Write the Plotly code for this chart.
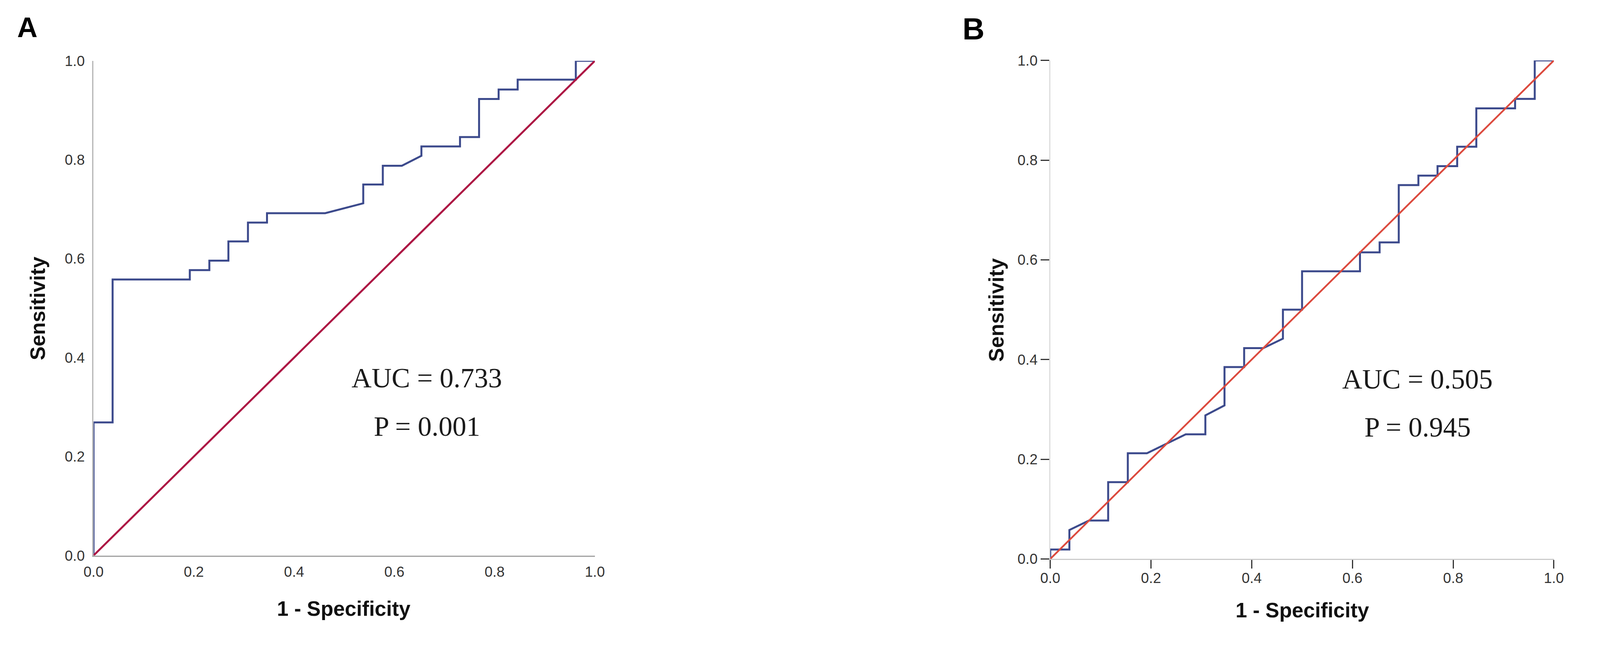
import plotly.graph_objects as go

# ROC curve A (1 - specificity, sensitivity)
fpr_a = [0, 0, 0.038, 0.038, 0.192, 0.192, 0.231, 0.231, 0.269, 0.269, 0.308, 0.308,
         0.346, 0.346, 0.462, 0.538, 0.538, 0.577, 0.577, 0.615, 0.654, 0.654, 0.731,
         0.731, 0.769, 0.769, 0.808, 0.808, 0.846, 0.846, 0.962, 0.962, 1.0]
tpr_a = [0, 0.269, 0.269, 0.558, 0.558, 0.577, 0.577, 0.596, 0.596, 0.635, 0.635, 0.673,
         0.673, 0.692, 0.692, 0.712, 0.750, 0.750, 0.788, 0.788, 0.808, 0.827, 0.827,
         0.846, 0.846, 0.923, 0.923, 0.942, 0.942, 0.962, 0.962, 1.0, 1.0]

# ROC curve B
fpr_b = [0, 0, 0.038, 0.038, 0.077, 0.115, 0.115, 0.154, 0.154, 0.192, 0.269, 0.308,
         0.308, 0.346, 0.346, 0.385, 0.385, 0.423, 0.462, 0.462, 0.500, 0.500, 0.615,
         0.615, 0.654, 0.654, 0.692, 0.692, 0.731, 0.731, 0.769, 0.769, 0.808, 0.808,
         0.846, 0.846, 0.923, 0.923, 0.962, 0.962, 1.0]
tpr_b = [0, 0.019, 0.019, 0.058, 0.077, 0.077, 0.154, 0.154, 0.212, 0.212, 0.250, 0.250,
         0.288, 0.308, 0.385, 0.385, 0.423, 0.423, 0.442, 0.500, 0.500, 0.577, 0.577,
         0.615, 0.615, 0.635, 0.635, 0.750, 0.750, 0.769, 0.769, 0.788, 0.788, 0.827,
         0.827, 0.904, 0.904, 0.923, 0.923, 1.0, 1.0]

# reference (chance) line
ref_x = [0, 1]
ref_y = [0, 1]

ticks = [0, 0.2, 0.4, 0.6, 0.8, 1.0]
tick_text = ["0.0", "0.2", "0.4", "0.6", "0.8", "1.0"]

auc_a = "AUC = 0.733"
p_a = "P = 0.001"
auc_b = "AUC = 0.505"
p_b = "P = 0.945"

W, H = 4317, 1703
blue = "#3c4a8c"

fig = go.Figure()

# panel A
fig.add_trace(go.Scatter(x=fpr_a, y=tpr_a, mode="lines", line=dict(color=blue, width=5),
                         xaxis="x", yaxis="y", cliponaxis=False))
fig.add_trace(go.Scatter(x=ref_x, y=ref_y, mode="lines", line=dict(color="#ad1744", width=5),
                         xaxis="x", yaxis="y", cliponaxis=False))
# panel B
fig.add_trace(go.Scatter(x=fpr_b, y=tpr_b, mode="lines", line=dict(color=blue, width=5),
                         xaxis="x2", yaxis="y2", cliponaxis=False))
fig.add_trace(go.Scatter(x=ref_x, y=ref_y, mode="lines", line=dict(color="#dc4a3e", width=4.5),
                         xaxis="x2", yaxis="y2", cliponaxis=False))

tickfont = dict(family="Arial, Liberation Sans, sans-serif", size=37, color="#333333")
common = dict(range=[0, 1], tickvals=ticks, ticktext=tick_text, showgrid=False,
              zeroline=False, showline=True, tickfont=tickfont, layer="below traces",
              fixedrange=True)

fig.update_layout(
    width=W, height=H,
    margin=dict(l=0, r=0, t=0, b=0),
    paper_bgcolor="white", plot_bgcolor="white",
    showlegend=False,
    xaxis=dict(domain=[208 / W, 1507 / W], anchor="y", linecolor="#a0a0a0", linewidth=3,
               ticks="", ticklabelstandoff=7, **common),
    yaxis=dict(domain=[1 - 1429 / H, 1 - 131 / H], anchor="x", linecolor="#b4b4b4", linewidth=3,
               ticks="", ticklabelstandoff=12, **common),
    xaxis2=dict(domain=[2687 / W, 3992 / W], anchor="y2", linecolor="#cccccc", linewidth=3,
                ticks="outside", ticklen=22, tickwidth=3, tickcolor="#333333",
                ticklabelstandoff=-8, **common),
    yaxis2=dict(domain=[1 - 1438 / H, 1 - 130 / H], anchor="x2", linecolor="#dddddd", linewidth=3,
                ticks="outside", ticklen=22, tickwidth=3, tickcolor="#333333",
                ticklabelstandoff=0, **common),
)

title_font = dict(family="Arial, Liberation Sans, sans-serif", size=53, color="#111111")
serif = dict(family="Times New Roman, Liberation Serif, serif", size=71, color="#1a1a1a")
letter_font = dict(family="Arial, Liberation Sans, sans-serif", color="black")

annotations = [
    # panel letters
    dict(text="<b>A</b>", x=8 / W, y=1.0, xref="paper", yref="paper", xanchor="left", yanchor="top",
         showarrow=False, font=dict(size=72, **letter_font)),
    dict(text="<b>B</b>", x=2458 / W, y=1.0, xref="paper", yref="paper", xanchor="left", yanchor="top",
         showarrow=False, font=dict(size=78, **letter_font)),
    # axis titles
    dict(text="<b>Sensitivity</b>", x=63 / W, y=1 - 780 / H, xref="paper", yref="paper",
         xanchor="center", yanchor="middle", textangle=-90, showarrow=False, font=title_font),
    dict(text="<b>1 - Specificity</b>", x=856 / W, y=1 - 1568 / H, xref="paper", yref="paper",
         xanchor="center", yanchor="middle", showarrow=False, font=title_font),
    dict(text="<b>Sensitivity</b>", x=2547 / W, y=1 - 784 / H, xref="paper", yref="paper",
         xanchor="center", yanchor="middle", textangle=-90, showarrow=False, font=title_font),
    dict(text="<b>1 - Specificity</b>", x=3340 / W, y=1 - 1572 / H, xref="paper", yref="paper",
         xanchor="center", yanchor="middle", showarrow=False, font=title_font),
    # AUC and P values
    dict(text=auc_a, x=0.665, y=0.359, xref="x", yref="y", showarrow=False, font=serif),
    dict(text=p_a, x=0.665, y=0.261, xref="x", yref="y", showarrow=False, font=serif),
    dict(text=auc_b, x=0.729, y=0.361, xref="x2", yref="y2", showarrow=False, font=serif),
    dict(text=p_b, x=0.729, y=0.264, xref="x2", yref="y2", showarrow=False, font=serif),
]
fig.update_layout(annotations=annotations)

fig.write_html("out.html")
